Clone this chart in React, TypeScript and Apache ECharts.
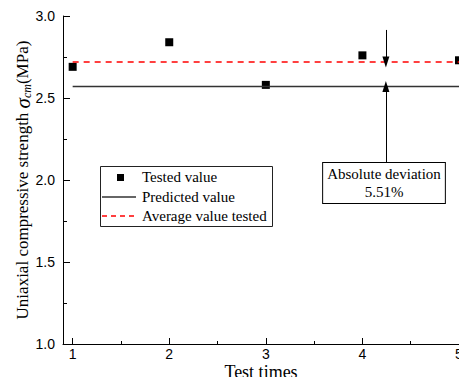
import React, { useEffect, useRef } from "react";
import * as echarts from "echarts";

const testTimes = [1, 2, 3, 4, 5];
const testedValues = [2.69, 2.84, 2.58, 2.76, 2.73];
const predictedValue = 2.57;
const averageValue = 2.72;
const xTickValues = [1, 2, 3, 4, 5];
const xMinorTickValues = [1.5, 2.5, 3.5, 4.5];
const deviationText = ["Absolute deviation", "5.51%"];
const arrowX = 4.243;

const SERIF = "'Liberation Serif', 'Times New Roman', serif";
const SANS = "'Liberation Sans', Arial, sans-serif";

export default function App() {
  const ref = useRef<HTMLDivElement>(null);
  useEffect(() => {
    if (!ref.current) return;
    const chart = echarts.init(ref.current, null, { renderer: "svg" });
    const xMin = 0.9;
    const xMax = 5;
    chart.setOption({
      animation: false,
      backgroundColor: "#fff",
      grid: { left: 63, right: 0, top: 16, bottom: 33, containLabel: false, outerBoundsMode: "none" },
      xAxis: [
        {
          type: "value",
          min: xMin,
          max: xMax,
          name: "Test times",
          nameLocation: "middle",
          nameGap: 19,
          nameMoveOverlap: false,
          nameTextStyle: { fontFamily: SERIF, fontSize: 18, color: "#000" },
          axisLine: { show: true, onZero: false, lineStyle: { color: "#000", width: 1 } },
          axisTick: { show: true, inside: true, length: 6, customValues: xTickValues, lineStyle: { color: "#000" } },
          axisLabel: { show: true, customValues: xTickValues, margin: 3, fontFamily: SANS, fontSize: 14, color: "#000" },
          splitLine: { show: false },
        },
        {
          type: "value",
          min: xMin,
          max: xMax,
          position: "bottom",
          axisLine: { show: false },
          axisTick: { show: true, inside: true, length: 3, customValues: xMinorTickValues, lineStyle: { color: "#000" } },
          axisLabel: { show: false },
          splitLine: { show: false },
        },
      ],
      yAxis: {
        type: "value",
        min: 1,
        max: 3,
        interval: 0.5,
        name: "{a|Uniaxial compressive strength }{b|σ}{c|cm}{a|(MPa)}",
        nameLocation: "middle",
        nameGap: 30,
        nameMoveOverlap: false,
        nameTextStyle: {
          fontFamily: SERIF,
          fontSize: 17,
          color: "#000",
          rich: {
            a: { fontFamily: SERIF, fontSize: 17, color: "#000" },
            b: { fontFamily: SERIF, fontSize: 21, fontStyle: "italic", color: "#000" },
            c: { fontFamily: SERIF, fontSize: 12, fontStyle: "italic", color: "#000", padding: [8, 0, 0, 0] },
          },
        },
        axisLine: { show: true, onZero: false, lineStyle: { color: "#000", width: 1 } },
        axisTick: { show: true, inside: true, length: 7, lineStyle: { color: "#000" } },
        minorTick: { show: true, splitNumber: 2, length: 4, lineStyle: { color: "#000" } },
        axisLabel: {
          margin: 8,
          fontFamily: SANS,
          fontSize: 14,
          color: "#000",
          formatter: (v: number) => v.toFixed(1),
        },
        splitLine: { show: false },
      },
      series: [
        {
          name: "Predicted value",
          type: "line",
          data: [[testTimes[0], predictedValue], [testTimes[testTimes.length - 1], predictedValue]],
          symbol: "none",
          lineStyle: { color: "#333", width: 1.5 },
          silent: true,
        },
        {
          name: "Average value tested",
          type: "line",
          data: [[testTimes[0], averageValue], [testTimes[testTimes.length - 1], averageValue]],
          symbol: "none",
          lineStyle: { color: "#ff0000", width: 1.5, type: [6, 5] },
          silent: true,
        },
        {
          name: "Tested value",
          type: "scatter",
          data: testTimes.map((t, i) => [t, testedValues[i]]),
          symbol: "rect",
          symbolSize: 8,
          itemStyle: { color: "#000", opacity: 1 },
          clip: false,
          markLine: {
            silent: true,
            symbol: ["none", "triangle"],
            symbolSize: [7, 11],
            label: { show: false },
            lineStyle: { color: "#000", width: 1, type: "solid" },
            data: [
              [{ coord: [arrowX, 2.915] }, { coord: [arrowX, averageValue] }],
              [{ coord: [arrowX, 2.104] }, { coord: [arrowX, predictedValue] }],
            ],
          },
        },
      ],
      graphic: [
        {
          type: "rect",
          shape: { x: 100.5, y: 166.5, width: 172, height: 60 },
          style: { fill: "#fff", stroke: "#222", lineWidth: 1 },
          z: 10,
        },
        {
          type: "rect",
          shape: { x: 117, y: 174, width: 7, height: 7 },
          style: { fill: "#000" },
          z: 11,
        },
        {
          type: "line",
          shape: { x1: 102, y1: 197, x2: 136, y2: 197 },
          style: { stroke: "#333", lineWidth: 1.5 },
          z: 11,
        },
        {
          type: "line",
          shape: { x1: 102, y1: 216, x2: 136, y2: 216 },
          style: { stroke: "#ff0000", lineWidth: 1.5, lineDash: [5, 4] },
          z: 11,
        },
        {
          type: "text",
          x: 142,
          y: 177,
          style: { text: "Tested value", font: `15px ${SERIF}`, fill: "#000", verticalAlign: "middle" },
          z: 11,
        },
        {
          type: "text",
          x: 142,
          y: 197,
          style: { text: "Predicted value", font: `15px ${SERIF}`, fill: "#000", verticalAlign: "middle" },
          z: 11,
        },
        {
          type: "text",
          x: 142,
          y: 216,
          style: { text: "Average value tested", font: `15px ${SERIF}`, fill: "#000", verticalAlign: "middle" },
          z: 11,
        },
        {
          type: "text",
          x: 384,
          y: 163,
          style: {
            text: deviationText.join("\n"),
            font: `15px ${SERIF}`,
            fill: "#000",
            align: "center",
            verticalAlign: "top",
            lineHeight: 18,
            backgroundColor: "#fff",
            borderColor: "#000",
            borderWidth: 1,
            padding: [2, 4, 2, 4],
          },
          z: 11,
        },
      ],
    });
    return () => chart.dispose();
  }, []);
  return (
    <div
      ref={ref}
      style={{ position: "fixed", left: 0, top: 0, width: 459, height: 377, background: "#fff" }}
    />
  );
}
